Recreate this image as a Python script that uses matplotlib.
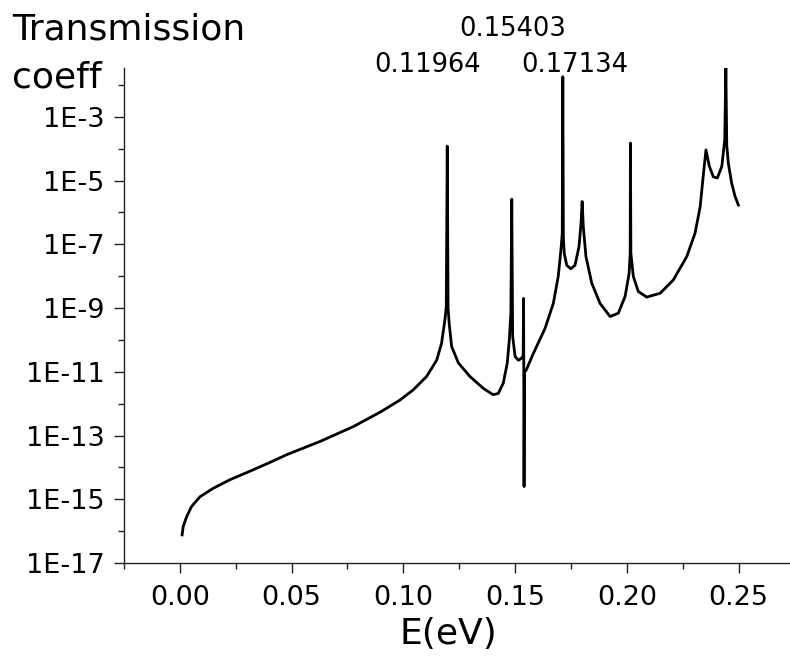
import numpy as np
import matplotlib
matplotlib.use("Agg")
import matplotlib.pyplot as plt
from matplotlib.ticker import FixedLocator, FuncFormatter
from matplotlib.transforms import blended_transform_factory

# energy (eV) and transmission coefficient
energy = [0.001, 0.0015, 0.003, 0.0052, 0.009, 0.0149, 0.0224, 0.0306, 0.040, 0.0478,
          0.0627, 0.0776, 0.090, 0.0985, 0.1044, 0.1104, 0.1149, 0.1171, 0.1186, 0.1192,
          0.11964, 0.1200, 0.1205, 0.1216, 0.1246, 0.1298, 0.1358, 0.1402, 0.1425, 0.1447,
          0.1465, 0.1474, 0.1481, 0.1485, 0.1489, 0.1500, 0.1515, 0.1530, 0.1536, 0.1538,
          0.1540, 0.1542, 0.1549, 0.1582, 0.1634, 0.1671, 0.1693, 0.1705, 0.1711, 0.17134,
          0.1716, 0.1720, 0.1731, 0.1749, 0.1768, 0.1786, 0.1795, 0.1800, 0.1805, 0.1817,
          0.1843, 0.1880, 0.1925, 0.1962, 0.1992, 0.2010, 0.2015, 0.2016, 0.2018, 0.2029,
          0.2051, 0.2089, 0.2149, 0.2208, 0.2268, 0.2305, 0.2328, 0.2343, 0.2354, 0.2369,
          0.2387, 0.2405, 0.2425, 0.2438, 0.2443, 0.2447, 0.2454, 0.2469, 0.2484, 0.2499]
trans = [7.6e-17, 1.4e-16, 2.8e-16, 5.9e-16, 1.2e-15, 2.2e-15, 4.1e-15, 7.2e-15, 1.4e-14, 2.5e-14,
         6.5e-14, 1.9e-13, 5.6e-13, 1.3e-12, 2.7e-12, 7.1e-12, 2.3e-11, 7.9e-11, 4.3e-10, 1.1e-9,
         1.2e-4, 1.0e-9, 3.3e-10, 6.2e-11, 1.9e-11, 7.1e-12, 3.0e-12, 1.9e-12, 2.1e-12, 4.4e-12,
         1.9e-11, 1.0e-10, 6.9e-10, 2.6e-6, 1.3e-10, 3.0e-11, 2.3e-11, 2.7e-11, 3.2e-11, 2.0e-9,
         2.5e-15, 1.0e-11, 1.1e-11, 3.8e-11, 2.3e-10, 1.4e-9, 9.8e-9, 6.6e-8, 2.2e-7, 1.8e-2,
         1.6e-7, 5.2e-8, 2.2e-8, 1.7e-8, 2.2e-8, 8.5e-8, 4.6e-7, 2.2e-6, 3.6e-7, 4.1e-8,
         6.0e-9, 1.4e-9, 5.4e-10, 6.9e-10, 2.3e-9, 1.2e-8, 5.2e-8, 1.5e-4, 5.2e-8, 9.8e-9,
         3.3e-9, 2.2e-9, 2.9e-9, 7.6e-9, 4.1e-8, 2.2e-7, 1.5e-6, 1.7e-5, 9.1e-5, 2.8e-5,
         1.3e-5, 1.2e-5, 2.8e-5, 1.9e-4, 3.4e-2, 1.3e-4, 3.5e-5, 8.3e-6, 3.2e-6, 1.7e-6]

peak_labels = ["0.11964", "0.15403", "0.17134"]
label_x = [0.111, 0.1491, 0.1768]
label_y = [1 - 72 / 662, 1 - 36 / 662, 1 - 72 / 662]

fig = plt.figure(figsize=(7.9, 6.62), dpi=100)
ax = fig.add_axes([124 / 790, 1 - 563 / 662, 1 - 124 / 790, (563 - 68) / 662])

ax.plot(energy, trans, color="black", lw=2.0, solid_joinstyle="round")

ax.set_yscale("log")
ax.set_xlim(-0.025, 0.273)
ax.set_ylim(1e-17, 10 ** -1.47)

# axes style
for s in ["top", "right"]:
    ax.spines[s].set_visible(False)
for s in ["left", "bottom"]:
    ax.spines[s].set_linewidth(1.0)
    ax.spines[s].set_color("#222222")

ax.set_xticks([0.0, 0.05, 0.10, 0.15, 0.20, 0.25])
ax.xaxis.set_minor_locator(FixedLocator([-0.025, 0.025, 0.075, 0.125, 0.175, 0.225]))
ax.xaxis.set_major_formatter(FuncFormatter(lambda v, p: f"{v:.2f}"))

ax.yaxis.set_major_locator(FixedLocator([10.0 ** k for k in range(-17, -2, 2)]))
ax.yaxis.set_minor_locator(FixedLocator([10.0 ** k for k in range(-16, -1, 2)]))
ax.yaxis.set_major_formatter(FuncFormatter(lambda v, p: f"1E{int(round(np.log10(v)))}"))
ax.yaxis.set_minor_formatter(FuncFormatter(lambda v, p: ""))

ax.tick_params(which="major", direction="out", length=7, width=1.0, labelsize=19.5,
               color="#222222", pad=7)
ax.tick_params(which="minor", direction="out", length=4, width=1.0, color="#222222")
ax.tick_params(axis="x", which="major", pad=9)

ax.set_xlabel("E(eV)", fontsize=26)
ax.xaxis.set_label_coords(0.487, -0.11)
ax.xaxis.label.set_va("top")

fig.text(12 / 790, 1 - 39 / 662, "Transmission", fontsize=26, va="baseline", ha="left")
fig.text(12 / 790, 1 - 88 / 662, "coeff", fontsize=26, va="baseline", ha="left")

tr = blended_transform_factory(ax.transData, fig.transFigure)
for lab, x, y in zip(peak_labels, label_x, label_y):
    ax.text(x, y, lab, transform=tr, fontsize=18.5, ha="center", va="baseline", clip_on=False)

fig.savefig("out.png", dpi=100)
